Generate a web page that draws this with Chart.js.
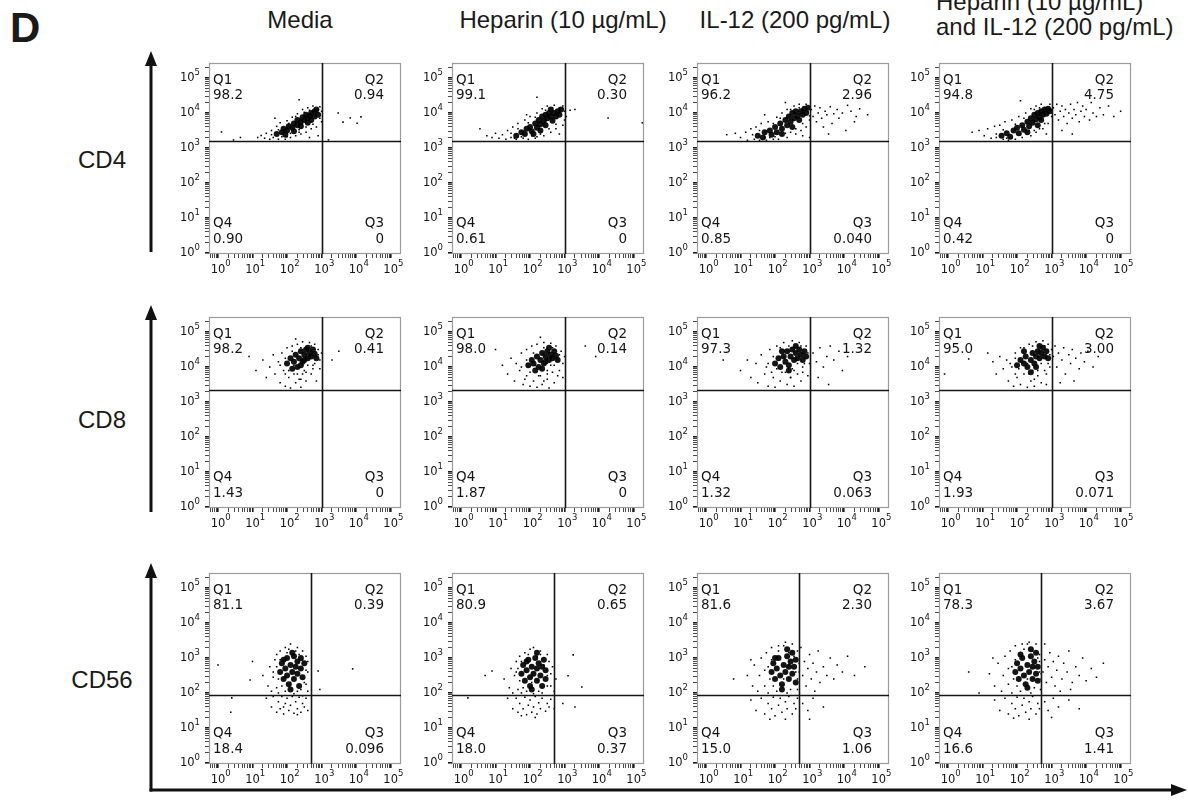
<!DOCTYPE html>
<html>
<head>
<meta charset="utf-8">
<script src="https://cdn.jsdelivr.net/npm/chart.js@4.4.1/dist/chart.umd.min.js"></script>
<style>
  body { margin:0; width:1188px; height:804px; position:relative; background:#fff; overflow:hidden; font-family:"Liberation Sans", Arial, sans-serif; color:#1a1a1a; }
  .t { position:absolute; font-size:24px; line-height:24px; white-space:nowrap; }
  .c { transform:translateX(-50%); }
  canvas { position:absolute; }
</style>
</head>
<body>
<div class="t" style="left:10px;top:7px;font-size:42px;line-height:42px;font-weight:bold;">D</div>
<div id="titles"></div>
<svg width="1188" height="804" style="position:absolute;left:0;top:0">
  <g stroke="#111" stroke-width="3" fill="#111">
    <line x1="151" y1="252" x2="151" y2="62"/>
    <polygon points="151,51 145,66 157,66" stroke="none"/>
    <line x1="151" y1="512" x2="151" y2="316"/>
    <polygon points="151,305 145,320 157,320" stroke="none"/>
    <line x1="151" y1="791.5" x2="151" y2="574"/>
    <polygon points="151,563 145,578 157,578" stroke="none"/>
    <line x1="149.5" y1="790" x2="1172" y2="790"/>
    <polygon points="1187,790 1171,784 1171,796" stroke="none"/>
  </g>
</svg>
<script>
// column conditions and row markers
const conditions = ['Media', 'Heparin (10 µg/mL)', 'IL-12 (200 pg/mL)', 'Heparin (10 µg/mL)|and IL-12 (200 pg/mL)'];
const markers = ['CD4', 'CD8', 'CD56'];

// quadrant percentages [row][col]
const q1 = [['98.2','99.1','96.2','94.8'], ['98.2','98.0','97.3','95.0'], ['81.1','80.9','81.6','78.3']];
const q2 = [['0.94','0.30','2.96','4.75'], ['0.41','0.14','1.32','3.00'], ['0.39','0.65','2.30','3.67']];
const q3 = [['0','0','0.040','0'], ['0','0','0.063','0.071'], ['0.096','0.37','1.06','1.41']];
const q4 = [['0.90','0.61','0.85','0.42'], ['1.43','1.87','1.32','1.93'], ['18.4','18.0','15.0','16.6']];

// gate positions per row
const xGate = [1000, 1000, 500];
const yGate = [1600, 2240, 90];

// axis decades
const decades = [0, 1, 2, 3, 4, 5];

// events, as [log10 x, log10 y]
const cd4MediaCore = [[1.7,3.40],[1.85,3.45],[1.9,3.55],[2.0,3.50],[2.05,3.62],[2.15,3.58],[2.2,3.70],[2.3,3.65],[2.3,3.80],[2.4,3.75],[2.45,3.88],[2.5,3.80],[2.55,3.95],[2.6,3.85],[2.65,3.92],[2.7,3.80],[2.7,4.0],[2.8,3.9],[2.8,4.05],[2.9,3.95],[2.4,3.62],[2.2,3.48],[1.95,3.38],[2.6,3.72],[2.85,4.1]];
const cd4MediaDots = [[1.15,3.30],[1.25,3.36],[1.35,3.28],[1.4,3.42],[1.5,3.25],[1.55,3.5],[1.6,3.3],[1.7,3.62],[1.75,3.25],[1.8,3.72],[1.95,3.25],[2.0,3.78],[2.1,3.3],[2.15,3.88],[2.25,3.35],[2.3,3.98],[2.4,3.4],[2.45,4.1],[2.55,3.45],[2.6,4.15],[2.7,3.55],[2.75,4.2],[2.85,3.6],[2.95,4.18],[3.0,3.75],[3.0,4.05],[2.35,4.38],[1.65,3.85],[2.9,3.35],[2.65,3.3],
  [1.55,3.38],[1.75,3.52],[1.85,3.32],[2.05,3.7],[2.1,3.42],[2.25,3.9],[2.35,3.52],[2.5,4.02],[2.55,3.6],[2.65,4.08],[2.75,3.68],[2.9,4.08],[2.95,3.85],[2.35,3.45],[2.0,3.32],
  [0.1,3.46],[0.45,3.23],[0.65,3.3],[3.2,3.23],[3.48,4.0],[3.62,3.74],[3.83,3.86],[4.03,3.71],[4.14,3.89]];
const cd4HepCore = [[1.6,3.35],[1.75,3.45],[1.85,3.4],[1.9,3.55],[2.0,3.6],[2.05,3.48],[2.15,3.7],[2.2,3.58],[2.25,3.8],[2.3,3.68],[2.35,3.9],[2.4,3.78],[2.45,3.95],[2.5,3.85],[2.55,4.0],[2.6,3.9],[2.65,3.78],[2.7,4.0],[2.75,3.9],[2.8,4.05],[2.85,3.95],[2.45,3.65],[2.6,4.1],[2.1,3.4],[2.9,4.1],[2.3,3.5]];
const cd4HepDots = [[0.55,3.55],[0.75,3.35],[0.9,3.3],[1.0,3.42],[1.1,3.28],[1.2,3.38],[1.3,3.25],[1.35,3.5],[1.45,3.3],[1.5,3.6],[1.6,3.25],[1.65,3.7],[1.8,3.28],[1.85,3.8],[1.95,3.25],[2.0,3.9],[2.15,3.28],[2.2,4.0],[2.4,3.35],[2.35,4.12],[2.6,3.45],[2.5,4.2],[2.75,3.55],[2.7,4.22],[2.95,3.65],[2.95,4.2],[3.05,3.9],[3.0,4.05],[2.2,4.45],[2.85,3.4],[1.9,3.95],
  [1.45,3.42],[1.65,3.55],[1.75,3.32],[1.95,3.72],[2.05,3.35],[2.15,3.88],[2.3,3.4],[2.45,4.08],[2.55,3.55],[2.65,4.15],[2.75,3.68],[2.85,4.15],[3.0,3.8],[2.2,3.32],[1.55,3.28],
  [3.16,4.08],[3.3,4.1],[4.26,3.86],[5.25,3.72]];
const cd4Il12Core = [[1.5,3.35],[1.65,3.3],[1.7,3.45],[1.85,3.5],[1.9,3.38],[2.0,3.6],[2.05,3.45],[2.15,3.7],[2.2,3.55],[2.3,3.8],[2.35,3.65],[2.4,3.9],[2.45,3.75],[2.5,4.0],[2.55,3.85],[2.6,4.05],[2.65,3.92],[2.7,3.8],[2.75,4.05],[2.8,3.95],[2.85,4.12],[2.9,4.0],[2.2,3.4],[2.5,3.6],[2.95,4.15]];
const cd4Il12Dots = [[0.6,3.38],[0.85,3.42],[1.0,3.3],[1.15,3.45],[1.2,3.22],[1.3,3.55],[1.4,3.25],[1.45,3.6],[1.55,3.22],[1.6,3.7],[1.75,3.22],[1.8,3.75],[1.95,3.25],[2.05,3.88],[2.1,3.25],[2.2,4.0],[2.35,3.3],[2.35,4.1],[2.6,3.4],[2.55,4.2],[2.75,3.5],[2.7,4.25],[2.9,3.6],[2.9,4.25],[3.0,3.8],[2.3,4.3],[1.7,3.95],[2.8,3.35],
  [1.35,3.38],[1.55,3.5],[1.7,3.3],[1.95,3.7],[2.0,3.32],[2.15,3.85],[2.3,3.42],[2.45,4.1],[2.6,3.55],[2.7,4.15],[2.8,3.7],[2.95,4.05],[3.0,3.92],[2.45,3.45],[1.85,3.3],
  [3.05,4.1],[3.1,3.9],[3.15,4.2],[3.2,3.75],[3.25,4.0],[3.3,4.15],[3.35,3.85],[3.4,3.6],[3.45,4.05],[3.5,3.95],[3.6,4.18],[3.65,3.7],[3.7,3.98],[3.8,4.1],[3.85,3.85],[3.95,4.0],[4.05,3.5],[4.1,4.22],[4.2,4.05],[4.35,3.9],[4.45,4.12],[4.3,3.75],[4.68,3.95],[3.55,3.4],[3.0,3.3]];
const cd4BothCore = [[1.55,3.35],[1.7,3.42],[1.8,3.32],[1.9,3.5],[2.0,3.58],[2.05,3.42],[2.15,3.65],[2.2,3.52],[2.3,3.75],[2.35,3.62],[2.4,3.85],[2.45,3.72],[2.5,3.95],[2.55,3.82],[2.6,4.0],[2.65,3.88],[2.7,4.05],[2.75,3.95],[2.8,4.1],[2.85,3.98],[2.9,4.12],[2.6,3.65],[2.3,3.45],[2.95,4.05],[2.7,3.8]];
const cd4BothDots = [[0.7,3.45],[0.9,3.5],[1.05,3.35],[1.15,3.55],[1.25,3.28],[1.35,3.62],[1.4,3.3],[1.5,3.65],[1.6,3.25],[1.65,3.75],[1.75,3.22],[1.85,3.8],[1.95,3.25],[2.05,3.9],[2.15,3.3],[2.25,4.0],[2.4,3.35],[2.4,4.12],[2.55,3.45],[2.55,4.2],[2.75,3.55],[2.7,4.25],[2.9,3.7],[2.95,4.25],[3.0,3.9],[2.1,4.35],[2.85,3.4],
  [1.4,3.4],[1.6,3.52],[1.7,3.28],[1.95,3.68],[2.1,3.38],[2.2,3.85],[2.35,3.5],[2.5,4.1],[2.65,3.55],[2.65,4.15],[2.8,3.7],[2.9,4.0],[3.0,4.1],[2.5,3.5],[1.85,3.28],
  [3.05,4.15],[3.1,3.95],[3.15,4.25],[3.2,3.8],[3.25,4.05],[3.3,4.2],[3.35,3.9],[3.4,4.1],[3.45,3.7],[3.5,4.0],[3.55,4.25],[3.6,3.85],[3.65,4.1],[3.7,3.95],[3.75,4.3],[3.8,3.75],[3.85,4.05],[3.9,4.2],[3.95,3.9],[4.0,4.1],[4.1,3.8],[4.15,4.3],[4.2,4.0],[4.3,3.9],[4.4,4.15],[4.5,3.95],[4.65,4.2],[4.8,3.9],[5.0,4.05],[3.3,3.5],[3.6,3.4]];

const cd8MediaCore = [[2.0,4.1],[2.1,4.25],[2.2,4.15],[2.25,4.35],[2.3,4.0],[2.35,4.25],[2.4,4.45],[2.45,4.15],[2.5,4.35],[2.55,4.5],[2.6,4.25],[2.65,4.4],[2.7,4.3],[2.75,4.5],[2.8,4.38],[2.6,4.55],[2.4,4.05],[2.85,4.25],[2.5,4.2],[2.15,3.95]];
const cd8MediaDots = [[1.1,3.9],[1.3,4.2],[1.4,3.7],[1.5,4.0],[1.6,4.35],[1.65,3.8],[1.75,4.15],[1.8,3.55],[1.85,4.4],[1.9,3.9],[1.95,3.45],[2.0,4.55],[2.05,3.7],[2.1,3.4],[2.15,4.6],[2.2,3.8],[2.25,3.55],[2.3,4.65],[2.35,3.65],[2.4,3.42],[2.45,4.72],[2.5,3.9],[2.55,3.6],[2.65,4.7],[2.7,3.8],[2.75,4.05],[2.8,4.65],[2.85,3.6],[2.9,4.5],[2.95,4.2],[2.95,3.95],[3.0,4.4],[2.45,3.8],[2.25,4.8],[0.9,4.3],[3.3,4.2],[3.5,4.45],
  [1.8,4.05],[1.95,4.25],[2.05,3.9],[2.15,4.45],[2.3,3.8],[2.4,4.55],[2.55,3.85],[2.7,4.6],[2.8,4.1],[2.9,4.35],[2.6,4.05],[2.2,4.05],[1.95,3.8],[2.4,3.65],[2.75,3.95]];
const cd8HepCore = [[1.95,4.05],[2.05,4.2],[2.1,4.1],[2.2,4.3],[2.25,4.0],[2.3,4.2],[2.35,4.4],[2.4,4.1],[2.45,4.3],[2.5,4.45],[2.55,4.2],[2.6,4.35],[2.65,4.25],[2.7,4.45],[2.75,4.32],[2.55,4.55],[2.35,3.95],[2.8,4.2],[2.45,4.15],[2.15,3.9]];
const cd8HepDots = [[1.2,4.05],[1.35,3.8],[1.45,4.25],[1.55,3.6],[1.6,4.1],[1.7,3.9],[1.75,4.4],[1.8,3.5],[1.9,4.5],[1.9,3.75],[2.0,3.45],[2.05,4.6],[2.1,3.6],[2.2,3.42],[2.2,4.65],[2.3,3.75],[2.35,3.5],[2.4,4.7],[2.5,3.65],[2.55,3.4],[2.6,4.68],[2.65,3.85],[2.7,3.55],[2.75,4.6],[2.85,3.9],[2.9,4.45],[2.95,4.1],[2.95,3.7],[3.0,4.3],[2.5,3.9],[2.3,4.85],[1.0,4.5],[3.6,4.6],[3.9,4.3],
  [1.75,4.0],[1.9,4.2],[2.0,3.85],[2.1,4.4],[2.25,3.75],[2.4,4.55],[2.5,3.8],[2.65,4.55],[2.7,4.05],[2.85,4.35],[2.6,4.05],[2.15,4.05],[1.85,3.65],[2.4,3.6],[2.8,3.75]];
const cd8Il12Core = [[2.0,4.1],[2.1,4.25],[2.15,4.0],[2.25,4.3],[2.3,4.15],[2.35,4.45],[2.4,4.05],[2.45,4.3],[2.5,4.5],[2.55,4.2],[2.6,4.4],[2.65,4.25],[2.7,4.5],[2.75,4.35],[2.8,4.2],[2.85,4.45],[2.6,4.6],[2.4,3.9],[2.9,4.3],[2.2,4.45]];
const cd8Il12Dots = [[1.0,3.9],[1.2,4.2],[1.3,3.7],[1.45,4.1],[1.5,3.55],[1.6,4.35],[1.7,3.8],[1.75,4.0],[1.8,3.45],[1.85,4.5],[1.95,3.7],[2.0,3.42],[2.05,4.6],[2.15,3.6],[2.2,3.85],[2.25,4.7],[2.35,3.5],[2.45,3.7],[2.5,4.75],[2.55,3.45],[2.65,3.8],[2.7,4.7],[2.75,3.6],[2.8,4.0],[2.9,4.6],[2.95,3.75],[3.0,4.1],[2.5,3.95],[0.5,4.2],
  [1.8,4.1],[1.95,4.3],[2.05,3.95],[2.15,4.55],[2.3,3.85],[2.4,4.6],[2.55,3.9],[2.75,4.6],[2.85,4.1],[2.95,4.4],[2.65,4.1],[2.25,4.1],[1.9,3.85],[2.45,3.7],[2.8,3.85],
  [3.1,4.4],[3.2,4.15],[3.3,4.55],[3.4,4.0],[3.5,4.3],[3.6,4.6],[3.7,4.2],[3.85,4.45],[3.95,3.9],[4.1,4.3],[3.25,3.7],[3.55,3.5]];
const cd8BothCore = [[2.0,4.05],[2.1,4.2],[2.2,4.1],[2.25,4.3],[2.3,4.0],[2.4,4.2],[2.45,4.4],[2.5,4.1],[2.55,4.3],[2.6,4.45],[2.65,4.25],[2.7,4.4],[2.75,4.55],[2.8,4.3],[2.85,4.45],[2.65,4.6],[2.4,3.85],[2.9,4.25],[2.55,4.0],[2.2,4.45]];
const cd8BothDots = [[1.3,4.15],[1.4,3.8],[1.5,4.3],[1.6,3.95],[1.7,4.2],[1.75,3.6],[1.85,4.0],[1.9,3.45],[1.95,4.4],[2.0,3.7],[2.1,3.5],[2.1,4.55],[2.2,3.8],[2.3,3.42],[2.35,4.65],[2.4,3.6],[2.5,3.45],[2.55,4.72],[2.6,3.75],[2.7,3.55],[2.75,4.75],[2.8,3.9],[2.85,3.5],[2.9,4.65],[2.95,4.0],[3.0,4.5],[2.45,3.9],[-0.1,3.8],[0.6,4.23],[1.15,4.4],
  [1.8,4.1],[1.95,4.25],[2.05,3.95],[2.2,4.55],[2.35,3.8],[2.45,4.6],[2.6,3.9],[2.8,4.6],[2.9,4.1],[2.95,4.35],[2.7,4.1],[2.3,4.1],[1.95,3.8],[2.5,3.65],[2.85,3.8],
  [3.05,4.3],[3.1,4.6],[3.15,4.0],[3.2,4.4],[3.3,4.2],[3.35,4.55],[3.4,3.8],[3.5,4.35],[3.55,4.1],[3.6,4.5],[3.7,4.25],[3.8,3.95],[3.85,4.4],[3.95,4.15],[4.05,4.45],[4.2,4.0],[4.35,4.3],[3.25,3.55],[3.65,3.6]];

const cd56MediaCore = [[1.8,2.6],[1.85,2.85],[1.9,2.4],[1.95,2.7],[2.0,3.0],[2.0,2.5],[2.05,2.25],[2.1,2.8],[2.15,2.6],[2.2,3.05],[2.2,2.4],[2.25,2.75],[2.3,2.9],[2.3,2.55],[2.35,2.2],[2.4,2.7],[2.4,3.0],[2.45,2.45],[2.5,2.85],[2.1,2.1],[1.9,2.95],[2.15,3.15]];
const cd56MediaDots = [[1.3,2.5],[1.45,2.2],[1.5,2.75],[1.55,2.05],[1.6,2.45],[1.65,2.95],[1.7,2.15],[1.7,3.1],[1.75,2.0],[1.8,3.2],[1.95,3.3],[2.05,3.25],[2.3,3.3],[2.45,3.2],[2.55,3.05],[2.6,2.6],[2.55,2.25],[2.6,2.05],[2.6,2.9],[2.1,3.4],[1.6,2.6],
  [1.7,2.75],[1.75,2.4],[1.8,2.95],[1.85,2.2],[2.0,3.15],[2.1,2.3],[2.25,3.2],[2.3,2.05],[2.45,2.95],[2.5,2.3],[2.55,2.65],[2.4,2.1],[1.95,2.05],[2.2,1.98],[2.35,3.1],
  [1.4,1.85],[1.55,1.6],[1.6,1.9],[1.7,1.45],[1.75,1.75],[1.8,1.55],[1.85,1.9],[1.9,1.4],[1.95,1.7],[2.0,1.85],[2.05,1.5],[2.1,1.65],[2.15,1.9],[2.2,1.42],[2.25,1.75],[2.3,1.55],[2.35,1.88],[2.4,1.45],[2.45,1.7],[2.5,1.6],[2.55,1.85],[2.6,1.5],[2.3,1.38],[1.9,1.6],[2.45,1.92],
  [0.0,2.8],[0.4,1.86],[0.37,1.45],[1.0,2.9],[0.93,2.37],[2.9,2.63],[3.9,2.69],[2.95,2.1]];
const cd56HepCore = [[1.75,2.55],[1.8,2.8],[1.85,2.35],[1.9,2.65],[1.95,2.95],[2.0,2.45],[2.0,2.2],[2.05,2.75],[2.1,2.55],[2.15,3.0],[2.2,2.35],[2.2,2.7],[2.25,2.85],[2.3,2.5],[2.35,2.2],[2.35,2.75],[2.4,2.95],[2.45,2.4],[2.45,2.65],[2.05,2.1],[1.9,2.9],[2.2,3.15]];
const cd56HepDots = [[1.25,2.4],[1.4,2.15],[1.45,2.7],[1.5,2.0],[1.55,2.5],[1.6,2.9],[1.65,2.1],[1.7,3.05],[1.75,2.0],[1.85,3.15],[2.0,3.25],[2.1,3.3],[2.3,3.2],[2.5,3.1],[2.55,2.9],[2.6,2.55],[2.6,2.2],[2.7,2.05],[2.65,2.75],[2.75,2.4],[1.6,2.6],
  [1.65,2.7],[1.7,2.35],[1.75,2.9],[1.8,2.15],[1.95,3.1],[2.05,2.3],[2.2,3.05],[2.25,2.05],[2.4,2.8],[2.5,2.2],[2.5,2.5],[2.35,2.0],[1.9,2.05],[2.1,1.98],[2.3,3.1],
  [1.35,1.85],[1.5,1.55],[1.6,1.85],[1.65,1.45],[1.7,1.7],[1.8,1.55],[1.85,1.88],[1.9,1.38],[1.95,1.65],[2.0,1.8],[2.05,1.45],[2.1,1.6],[2.15,1.9],[2.2,1.4],[2.25,1.72],[2.3,1.55],[2.35,1.85],[2.45,1.48],[2.5,1.7],[2.55,1.6],[2.6,1.82],[2.7,1.55],[2.15,1.3],[1.75,1.35],
  [0.2,1.86],[0.7,2.5],[0.9,2.63],[3.25,3.09],[3.1,2.49],[3.5,2.17],[2.95,1.7],[3.3,1.6]];
const cd56Il12Core = [[1.9,2.6],[1.95,2.85],[2.0,2.4],[2.05,2.7],[2.1,3.0],[2.15,2.5],[2.2,2.25],[2.25,2.8],[2.3,2.6],[2.35,3.05],[2.4,2.4],[2.4,2.75],[2.45,2.9],[2.5,2.55],[2.5,3.15],[2.55,2.75],[2.6,2.95],[2.6,2.3],[2.2,2.1],[2.0,3.0],[2.35,3.25]];
const cd56Il12Dots = [[1.2,2.5],[1.35,2.2],[1.4,2.8],[1.5,2.05],[1.55,2.5],[1.6,3.0],[1.7,2.2],[1.75,3.15],[1.8,2.0],[1.9,3.3],[2.1,3.35],[2.3,3.45],[2.5,3.4],[2.65,3.2],[2.7,2.6],[2.65,2.1],[1.7,2.65],[1.3,2.95],[0.8,2.4],
  [1.8,2.75],[1.85,2.4],[1.9,2.95],[1.95,2.2],[2.1,3.2],[2.25,2.4],[2.4,3.15],[2.45,2.1],[2.6,2.6],[2.65,2.4],[2.55,3.05],[2.35,2.0],[2.05,2.05],[2.25,3.35],[2.7,2.85],
  [1.3,1.8],[1.45,1.5],[1.6,1.85],[1.7,1.4],[1.8,1.7],[1.9,1.55],[1.95,1.88],[2.0,1.35],[2.1,1.65],[2.15,1.85],[2.2,1.45],[2.3,1.75],[2.35,1.55],[2.4,1.9],[2.5,1.4],[2.55,1.7],[2.6,1.55],[2.65,1.85],[2.3,1.25],[1.85,1.25],
  [2.8,2.5],[2.85,2.9],[2.9,2.2],[2.95,2.7],[3.0,3.1],[3.05,2.4],[3.1,2.85],[3.2,2.6],[3.25,3.2],[3.3,2.3],[3.4,2.75],[3.5,2.5],[3.6,3.0],[3.7,2.4],[3.8,2.8],[3.95,2.6],[4.1,3.05],[4.3,2.5],[4.6,2.75],[3.15,2.05],[2.75,3.3],
  [2.8,1.7],[2.95,1.5],[3.1,1.85],[3.4,1.6],[3.0,1.25]];
const cd56BothCore = [[1.95,2.6],[2.0,2.85],[2.05,2.4],[2.1,2.7],[2.15,3.0],[2.2,2.5],[2.25,2.25],[2.3,2.8],[2.35,2.6],[2.4,3.05],[2.45,2.4],[2.45,2.75],[2.5,2.9],[2.55,2.55],[2.55,3.15],[2.6,2.75],[2.3,2.15],[2.1,3.1],[2.4,3.25],[2.6,2.35]];
const cd56BothDots = [[1.2,2.55],[1.35,2.2],[1.45,2.85],[1.55,2.05],[1.6,2.5],[1.65,3.05],[1.75,2.25],[1.8,3.2],[1.85,2.0],[1.95,3.35],[2.15,3.4],[2.35,3.45],[2.55,3.4],[2.65,3.1],[2.7,2.55],[2.68,2.1],[1.75,2.7],[1.3,3.0],[0.6,2.6],[0.9,2.0],
  [1.85,2.75],[1.9,2.4],[1.95,2.95],[2.0,2.2],[2.2,3.25],[2.3,2.4],[2.45,3.2],[2.5,2.15],[2.65,2.6],[2.7,2.4],[2.6,3.0],[2.4,2.0],[2.1,2.05],[2.3,3.4],[2.65,2.9],
  [1.35,1.8],[1.5,1.5],[1.65,1.85],[1.75,1.4],[1.85,1.7],[1.95,1.55],[2.0,1.88],[2.05,1.35],[2.15,1.65],[2.2,1.85],[2.25,1.45],[2.35,1.75],[2.4,1.55],[2.45,1.9],[2.55,1.4],[2.6,1.7],[2.65,1.55],[2.35,1.25],[1.9,1.28],
  [2.75,2.6],[2.8,2.95],[2.85,2.3],[2.9,2.75],[2.95,3.15],[3.0,2.45],[3.05,2.9],[3.1,2.2],[3.15,2.65],[3.2,3.05],[3.3,2.4],[3.35,2.85],[3.45,2.6],[3.5,3.2],[3.6,2.3],[3.7,2.75],[3.8,2.5],[3.9,3.0],[4.0,2.35],[4.15,2.7],[4.3,2.45],[4.5,2.85],[2.8,3.4],[3.25,2.05],[3.55,2.1],
  [2.8,1.75],[2.9,1.5],[3.05,1.85],[3.2,1.6],[3.5,1.8],[3.0,1.3],[3.8,1.55]];

const panelCore = [[cd4MediaCore, cd4HepCore, cd4Il12Core, cd4BothCore],
                   [cd8MediaCore, cd8HepCore, cd8Il12Core, cd8BothCore],
                   [cd56MediaCore, cd56HepCore, cd56Il12Core, cd56BothCore]];
const panelDots = [[cd4MediaDots, cd4HepDots, cd4Il12Dots, cd4BothDots],
                   [cd8MediaDots, cd8HepDots, cd8Il12Dots, cd8BothDots],
                   [cd56MediaDots, cd56HepDots, cd56Il12Dots, cd56BothDots]];

// layout
const boxLeft = [209, 452, 697, 939];
const boxTop = [63, 317, 573];
const padL = 45, padT = 12, padR = 12, padB = 30;
const boxW = 192, boxH = 191;

// titles and row labels
const titleX = [300, 563, 795];
const titles = document.getElementById('titles');
conditions.forEach((c, i) => {
  const lines = c.split('|');
  if (lines.length === 1) {
    titles.insertAdjacentHTML('beforeend', `<div class="t c" style="left:${titleX[i]}px;top:8px">${lines[0]}</div>`);
  } else {
    titles.insertAdjacentHTML('beforeend', `<div class="t" style="left:936px;top:-10px">${lines[0]}</div>`);
    titles.insertAdjacentHTML('beforeend', `<div class="t" style="left:936px;top:15px">${lines[1]}</div>`);
  }
});
const rowLabelY = [148, 408, 668];
markers.forEach((m, i) => {
  titles.insertAdjacentHTML('beforeend', `<div class="t c" style="left:102px;top:${rowLabelY[i]}px">${m}</div>`);
});

const toXY = ([a, b]) => ({ x: Math.pow(10, a), y: Math.pow(10, b) });
const isMajor = v => Math.abs(Math.log10(v) - Math.round(Math.log10(v))) < 1e-6;
const logTicks = s => {
  const out = [];
  for (let e = -1; e <= 5; e++) for (let m = 1; m <= 9; m++) {
    const v = m * Math.pow(10, e);
    if (v >= s.min && v <= s.max) out.push({ value: v });
  }
  s.ticks = out;
};

const flowPlugin = {
  id: 'flow',
  afterDraw(chart) {
    const { ctx, chartArea: a, scales: { x, y } } = chart;
    const o = chart.options.plugins.flow;
    ctx.save();
    ctx.strokeStyle = '#9c9c9c';
    ctx.lineWidth = 1.2;
    ctx.strokeRect(a.left + 0.5, a.top + 0.5, a.width - 1, a.height - 1);

    const gx = Math.round(x.getPixelForValue(o.xGate)) + 0.5;
    const gy = Math.round(y.getPixelForValue(o.yGate)) + 0.5;
    ctx.strokeStyle = '#151515';
    ctx.lineWidth = 1.6;
    ctx.beginPath();
    ctx.moveTo(gx, a.top); ctx.lineTo(gx, a.bottom);
    ctx.moveTo(a.left, gy); ctx.lineTo(a.right, gy);
    ctx.stroke();

    ctx.fillStyle = '#151515';
    ctx.font = '13.5px "DejaVu Sans"';
    ctx.textBaseline = 'alphabetic';
    ctx.textAlign = 'left';
    ctx.fillText('Q1', a.left + 4, a.top + 21);
    ctx.fillText(o.q[0], a.left + 4, a.top + 36);
    ctx.fillText('Q4', a.left + 4, a.bottom - 27);
    ctx.fillText(o.q[3], a.left + 4, a.bottom - 11);
    ctx.textAlign = 'right';
    ctx.fillText('Q2', a.right - 17, a.top + 21);
    ctx.fillText(o.q[1], a.right - 17, a.top + 36);
    ctx.fillText('Q3', a.right - 17, a.bottom - 27);
    ctx.fillText(o.q[2], a.right - 17, a.bottom - 11);

    // decade labels 10^n
    ctx.textBaseline = 'middle';
    decades.forEach(n => {
      const py = y.getPixelForValue(Math.pow(10, n));
      ctx.font = '8.5px "DejaVu Sans"';
      ctx.textAlign = 'right';
      ctx.fillText(String(n), a.left - 9, py - 5);
      const ew = ctx.measureText(String(n)).width;
      ctx.font = '11.5px "DejaVu Sans"';
      ctx.fillText('10', a.left - 9 - ew, py);

      const px = x.getPixelForValue(Math.pow(10, n));
      ctx.textAlign = 'center';
      ctx.fillText('10', px, a.bottom + 16);
      const w = ctx.measureText('10').width;
      ctx.font = '8.5px "DejaVu Sans"';
      ctx.textAlign = 'left';
      ctx.fillText(String(n), px + w / 2, a.bottom + 10);
    });
    ctx.restore();
  }
};

const axisGrid = {
  drawOnChartArea: false, drawTicks: true, tickLength: 4, color: '#1a1a1a',
  lineWidth: c => (c.tick && isMajor(c.tick.value)) ? 1.6 : 0.8
};

for (let r = 0; r < 3; r++) {
  for (let c = 0; c < 4; c++) {
    const cv = document.createElement('canvas');
    cv.width = padL + boxW + padR;
    cv.height = padT + boxH + padB;
    cv.style.left = (boxLeft[c] - padL) + 'px';
    cv.style.top = (boxTop[r] - padT) + 'px';
    document.body.appendChild(cv);
    new Chart(cv, {
      type: 'scatter',
      data: {
        datasets: [
          { data: panelCore[r][c].map(toXY), pointRadius: 3, pointStyle: 'circle', backgroundColor: 'rgba(0,0,0,0.92)', borderWidth: 0 },
          { data: panelDots[r][c].map(toXY), pointRadius: 1.1, pointStyle: 'rect', backgroundColor: '#000', borderWidth: 0 }
        ]
      },
      options: {
        responsive: false, animation: false, events: [], devicePixelRatio: 1,
        layout: { padding: { top: padT, right: padR, left: 0, bottom: 0 } },
        plugins: {
          legend: { display: false }, tooltip: { enabled: false },
          flow: { xGate: xGate[r], yGate: yGate[r], q: [q1[r][c], q2[r][c], q3[r][c], q4[r][c]] }
        },
        scales: {
          x: {
            type: 'logarithmic', min: Math.pow(10, -0.26), max: Math.pow(10, 5.3),
            afterBuildTicks: logTicks, afterFit: s => { s.height = padB; },
            ticks: { callback: () => '', autoSkip: false, maxRotation: 0 },
            grid: axisGrid, border: { display: false }
          },
          y: {
            type: 'logarithmic', min: Math.pow(10, -0.03), max: Math.pow(10, 5.43),
            afterBuildTicks: logTicks, afterFit: s => { s.width = padL; },
            ticks: { callback: () => '', autoSkip: false },
            grid: axisGrid, border: { display: false }
          }
        }
      },
      plugins: [flowPlugin]
    });
  }
}
</script>
</body>
</html>
